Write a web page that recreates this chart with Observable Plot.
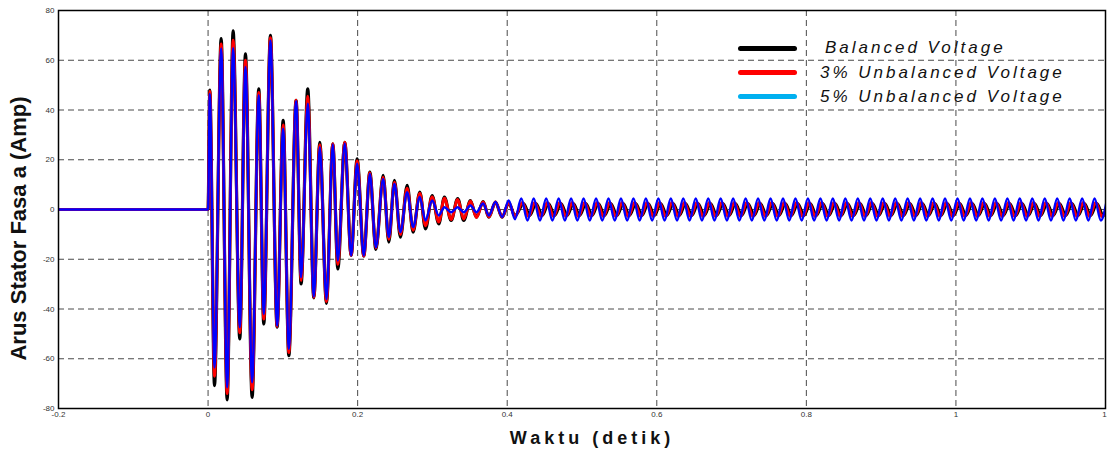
<!DOCTYPE html>
<html>
<head>
<meta charset="utf-8">
<script src="https://cdn.jsdelivr.net/npm/d3@7"></script>
<script src="https://cdn.jsdelivr.net/npm/@observablehq/plot@0.6"></script>
<style>
  html, body { margin: 0; padding: 0; background: #fff; overflow: hidden; }
  #wrap { position: relative; width: 1107px; height: 453px; font-family: "Liberation Sans", Arial, sans-serif; }
  .leg-line { position: absolute; height: 5px; border-radius: 3px; }
  .leg-text { position: absolute; font-style: italic; font-size: 17px; letter-spacing: 3px; color: #111; line-height: 20px; white-space: pre; }
</style>
</head>
<body>
<div id="wrap"></div>
<script>
// ---- tick labels / categories ----
const xTicks = [-0.2, 0, 0.2, 0.4, 0.6, 0.8, 1, 1.2];
const xTickLabels = ["-0.2", "0", "0.2", "0.4", "0.6", "0.8", "1", "1."];
const yTicks = [-80, -60, -40, -20, 0, 20, 40, 60, 80];
const seriesNames = ["Balanced Voltage", "3% Unbalanced Voltage", "5% Unbalanced Voltage"];
const seriesColors = ["#000000", "#ff0000", "#0000ff"];
const legendColors = ["#000000", "#ff0000", "#00b0f0"];
const yLabel = "Arus Stator Fasa a (Amp)";
const xLabel = "Waktu (detik)";

// ---- start-up transient: extrema times (s) ----
const startTime = [-0.2, 0, 0.0023, 0.0086, 0.0175, 0.0255, 0.0335, 0.0424, 0.05, 0.0589,
  0.0678, 0.0745, 0.0834, 0.0923, 0.1004, 0.108, 0.1177, 0.1244, 0.1333, 0.1414,
  0.1494, 0.1583, 0.1668, 0.1735, 0.1828, 0.1913, 0.1993, 0.2082, 0.2163, 0.2244,
  0.2341, 0.2417, 0.2492, 0.2572, 0.2662, 0.2742, 0.2831, 0.2907, 0.2996, 0.3085,
  0.316, 0.325, 0.3338, 0.3419, 0.3508, 0.3588, 0.3678, 0.3754, 0.3843, 0.3932,
  0.4021, 0.4104];
const balancedStart = [0, 0, 48, -70.8, 68.7, -76.5, 71.8, -52, 62.6, -75.5,
  48.5, -46, 70, -47.3, 35.8, -58.8, 43.9, -29.9, 48.5, -35.5,
  27, -37.7, 26.4, -23.9, 27, -18.5, 20.4, -18.7, 15, -16,
  13.7, -13.1, 11.7, -11.1, 9.7, -9.1, 7, -7.8, 5.6, -5.8,
  5, -4.4, 4.4, -4.4, 3.6, -3.1, 3.2, -3.1, 3, -3.1,
  2.6, -2.5];
const unbalanced3Start = [0, 0, 47.5, -67, 66.5, -74, 68, -49.5, 60, -72.5,
  47, -44, 69, -47, 34, -57.5, 43.9, -28.5, 45.5, -35.3,
  26, -37, 26.4, -22, 27, -18.5, 19.5, -18.7, 14.8, -15.5,
  13, -12, 11, -10, 8.5, -8.3, 6.5, -6.5, 5, -5,
  4.5, -4, 4, -3.8, 3.4, -3.2, 3, -3, 3, -3,
  2.8, -2.8];
const unbalanced5Start = [0, 0, 46.5, -63.5, 64.7, -71.5, 64.8, -47.3, 57.3, -69.5,
  45.9, -42, 68, -46.7, 32.5, -56, 43.5, -27.2, 42.5, -35,
  25, -36, 26.2, -20.5, 26.5, -18.5, 18.4, -18.5, 14.3, -15.2,
  12.3, -11.1, 10.3, -9.1, 7, -7.1, 5, -4.4, 3.6, -2.4,
  0.9, -1.1, 0.9, -1.1, 1.6, -1.1, 2.4, -2.4, 3, -3,
  3.6, -3.9];

// ---- steady state: extrema times (s), alternating peak / trough ----
const steadyTime = [0.4188, 0.4271, 0.4354, 0.4438, 0.4521, 0.4604, 0.4688, 0.4771, 0.4854, 0.4938,
  0.5021, 0.5104, 0.5188, 0.5271, 0.5354, 0.5438, 0.5521, 0.5604, 0.5688, 0.5771, 0.5854, 0.5938,
  0.6021, 0.6104, 0.6188, 0.6271, 0.6354, 0.6438, 0.6521, 0.6604, 0.6688, 0.6771, 0.6854, 0.6938,
  0.7021, 0.7104, 0.7188, 0.7271, 0.7354, 0.7438, 0.7521, 0.7604, 0.7688, 0.7771, 0.7854, 0.7938,
  0.8021, 0.8104, 0.8188, 0.8271, 0.8354, 0.8438, 0.8521, 0.8604, 0.8688, 0.8771, 0.8854, 0.8938,
  0.9021, 0.9104, 0.9188, 0.9271, 0.9354, 0.9438, 0.9521, 0.9604, 0.9688, 0.9771, 0.9854, 0.9938,
  1.0021, 1.0104, 1.0188, 1.0271, 1.0354, 1.0438, 1.0521, 1.0604, 1.0688, 1.0771, 1.0854, 1.0938,
  1.1021, 1.1104, 1.1188, 1.1271, 1.1354, 1.1438, 1.1521, 1.1604, 1.1688, 1.1771, 1.1854, 1.1938,
  1.2021];
// steady peak / trough levels (A)
const balancedSteady = [2.4, -2.4];
const unbalanced3Steady = [2.8, -2.8];
const unbalanced5Steady = [4.4, -4.4];
// steady-state phase lag of each trace (s)
const steadyLag = [0.003, 0.0015, 0];

// ---- build tables ----
function buildSeries(startVals, steadyLevels, lag) {
  const rows = startTime.map((t, i) => ({t, v: startVals[i]}));
  steadyTime.forEach((t, i) => rows.push({t: t + lag, v: steadyLevels[i % 2]}));
  return rows;
}
const series = [
  buildSeries(balancedStart, balancedSteady, steadyLag[0]),
  buildSeries(unbalanced3Start, unbalanced3Steady, steadyLag[1]),
  buildSeries(unbalanced5Start, unbalanced5Steady, steadyLag[2])
];
const lineWidths = [3.2, 3, 2.4];

const gridX = xTicks.filter(d => d > -0.2 && d < 1.2);
const gridY = yTicks.filter(d => d > -80 && d < 80);

const chart = Plot.plot({
  width: 1107,
  height: 453,
  marginLeft: 58,
  marginRight: 2,
  marginTop: 10,
  marginBottom: 45,
  style: {fontFamily: "'Liberation Sans', Arial, sans-serif", background: "transparent", overflow: "visible"},
  x: {domain: [-0.2, 1.2], axis: null},
  y: {domain: [-80, 80], axis: null},
  marks: [
    Plot.ruleX(gridX, {stroke: "#4a4a4a", strokeWidth: 1, strokeDasharray: "6,4"}),
    Plot.ruleY(gridY, {stroke: "#4a4a4a", strokeWidth: 1, strokeDasharray: "6,4"}),
    ...series.map((rows, i) => Plot.line(rows, {
      x: "t", y: "v", stroke: seriesColors[i], strokeWidth: lineWidths[i],
      curve: "monotone-x", clip: true
    })),
    Plot.frame({stroke: "#000", strokeWidth: 1.5}),
    Plot.axisX(xTicks, {tickSize: 0, tickPadding: 3, fontSize: 8, fill: "#333",
      tickFormat: (d, i) => xTickLabels[xTicks.indexOf(d)], label: null}),
    Plot.axisY(yTicks, {tickSize: 0, tickPadding: 4, fontSize: 8, fill: "#333",
      tickFormat: d => String(d), label: null}),
    Plot.text([yLabel], {frameAnchor: "left", rotate: -90, dx: -40, dy: 19, fontSize: 22,
      fontWeight: "bold", fill: "#111", textAnchor: "middle", lineAnchor: "middle", text: d => d}),
    Plot.text([xLabel], {frameAnchor: "bottom", dy: 30, dx: 10, fontSize: 18,
      fontWeight: "bold", fill: "#111", textAnchor: "middle", lineAnchor: "middle", text: d => d})
  ]
});

const wrap = document.getElementById("wrap");
wrap.appendChild(chart);
d3.select(chart).selectAll("text").filter(function () { return this.textContent === xLabel; })
  .style("letter-spacing", "4px");

// legend (inside plot area, no background)
const legendLineY = [48, 72, 96];
const legendTextY = [48, 73, 97];
const legendTextX = [825, 820, 820];
seriesNames.forEach((name, i) => {
  const ln = document.createElement("div");
  ln.className = "leg-line";
  ln.style.left = "738px";
  ln.style.width = "59px";
  ln.style.top = (legendLineY[i] - 2.5) + "px";
  ln.style.background = legendColors[i];
  wrap.appendChild(ln);
  const tx = document.createElement("div");
  tx.className = "leg-text";
  tx.style.left = legendTextX[i] + "px";
  tx.style.top = (legendTextY[i] - 10) + "px";
  tx.textContent = name;
  wrap.appendChild(tx);
});
</script>
</body>
</html>
